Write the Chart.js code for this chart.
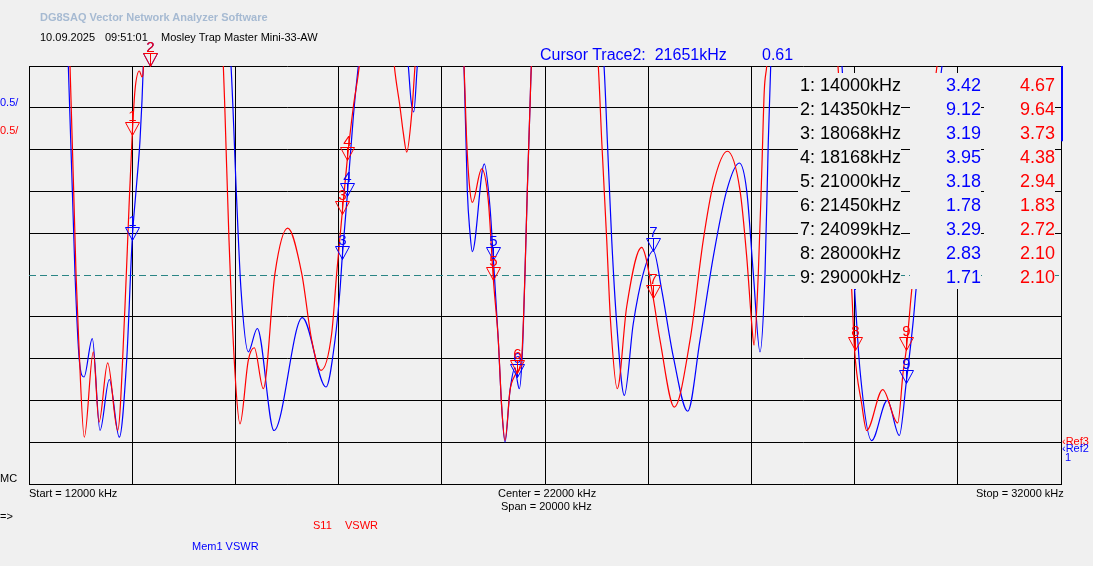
<!DOCTYPE html>
<html>
<head>
<meta charset="utf-8">
<script src="https://cdn.jsdelivr.net/npm/chart.js@4.4.1/dist/chart.umd.min.js"></script>
<style>
  body { margin: 0; background: #f0f0f0; }
  #wrap { position: relative; width: 1093px; height: 566px; overflow: hidden;
          font-family: "Liberation Sans", Arial, sans-serif; }
  #wrap canvas { position: absolute; left: 0; top: 0; }
  .t { position: absolute; white-space: nowrap; line-height: 1; }
  .small { font-size: 11px; color: #000; }
  .cell { position: absolute; height: 24px; line-height: 24px; font-size: 18px;
          background: #f0f0f0; white-space: nowrap; }
</style>
</head>
<body>
<div id="wrap">
  <canvas id="vna" width="1093" height="566"></canvas>

  <div class="t" style="left:40px;top:12px;font-size:11px;font-weight:bold;color:#a6bad2;">DG8SAQ Vector Network Analyzer Software</div>
  <div class="t small" style="left:40px;top:32px;">10.09.2025</div>
  <div class="t small" style="left:105px;top:32px;">09:51:01</div>
  <div class="t small" style="left:161px;top:32px;">Mosley Trap Master Mini-33-AW</div>

  <div class="t" style="left:540px;top:47px;font-size:16px;color:#0000ff;">Cursor Trace2:&nbsp; 21651kHz</div>
  <div class="t" style="left:762px;top:47px;font-size:16px;color:#0000ff;">0.61</div>

  <div class="t small" style="left:0px;top:97px;color:#0000ff;">0.5/</div>
  <div class="t small" style="left:0px;top:125px;color:#ff0000;">0.5/</div>

  <div class="t small" style="left:0px;top:473px;">MC</div>
  <div class="t small" style="left:29px;top:488px;">Start = 12000 kHz</div>
  <div class="t small" style="left:498px;top:488px;">Center = 22000 kHz</div>
  <div class="t small" style="left:501px;top:501px;">Span = 20000 kHz</div>
  <div class="t small" style="left:976px;top:488px;">Stop = 32000 kHz</div>
  <div class="t small" style="left:0px;top:511px;">=&gt;</div>
  <div class="t small" style="left:313px;top:520px;color:#ff0000;">S11</div>
  <div class="t small" style="left:345px;top:520px;color:#ff0000;">VSWR</div>
  <div class="t small" style="left:192px;top:541px;color:#0000ff;">Mem1 VSWR</div>

  <div class="t small" style="left:1062px;top:436px;color:#ff0000;">&lsaquo;Ref3</div>
  <div class="t small" style="left:1062px;top:443px;color:#0000ff;">&lsaquo;Ref2</div>
  <div class="t small" style="left:1065px;top:452px;color:#0000ff;">1</div>

  <div id="table"></div>
</div>

<script>
// S11 VSWR (red trace)
const s11Freq = [12000, 12795, 12911, 12963, 13072, 13246, 13357, 13525, 13719, 13860, 13938, 14000, 14054, 14138, 14190, 14219, 14350, 15000,
  15766, 15798, 15876, 15992, 16089, 16250, 16366, 16541, 16767, 17014, 17285, 17479, 17659, 17866, 17963, 18068, 18168, 18285, 18401, 18750,
  19080, 19190, 19254, 19320, 19417, 19481, 19950, 20430, 20482, 20533, 20591, 20773, 20901, 21000, 21095, 21161, 21225, 21322, 21419, 21450,
  21548, 21612, 21657, 21709, 21735, 22400, 23033, 23099, 23196, 23273, 23401, 23583, 23874, 23950, 24099, 24229, 24506, 24811, 25068, 25262,
  25533, 25780, 25909, 26006, 26051, 26134, 26200, 26250, 26297, 27000, 27678, 27944, 28000, 28137, 28234, 28545, 28835, 28944, 29000, 29107,
  29597, 32000];
const s11Vswr = [14, 5.50, 3.02, 2.22, 1.06, 2.08, 1.24, 1.95, 1.14, 2.62, 3.81, 4.67, 5.21, 5.44, 5.37, 5.50, 9.64, 12,
  5.50, 4.94, 3.42, 1.83, 1.22, 1.98, 2.13, 1.64, 3.02, 3.56, 3.02, 2.22, 1.86, 2.30, 3.02, 3.73, 4.38, 5.01, 5.50, 8,
  5.50, 5.01, 4.70, 4.47, 4.93, 5.50, 9, 5.50, 4.61, 4.09, 3.87, 4.27, 3.89, 2.94, 2.22, 1.42, 1.02, 1.62, 1.80, 1.83,
  2.02, 3.02, 4.01, 5.01, 5.50, 10, 5.50, 4.61, 3.42, 2.42, 1.64, 2.62, 3.33, 3.22, 2.72, 2.22, 1.42, 2.22, 3.42, 4.09,
  4.48, 4.01, 3.22, 2.42, 2.16, 3.02, 4.22, 5.21, 5.50, 12, 5.50, 2.82, 2.10, 1.46, 1.14, 1.63, 1.23, 1.86, 2.10, 2.82,
  5.50, 15];

// Mem1 VSWR (blue trace)
const memFreq = [12000, 12762, 12891, 12975, 13066, 13227, 13376, 13556, 13750, 13893, 14000, 14087, 14151, 14215, 14350, 15000,
  15915, 16025, 16109, 16250, 16424, 16748, 17297, 17756, 17930, 18027, 18068, 18168, 18285, 18382, 18900, 19351, 19403, 19456, 19525, 20000,
  20430, 20494, 20547, 20591, 20824, 20934, 21000, 21095, 21161, 21225, 21322, 21419, 21450, 21502, 21560, 21612, 21657, 21709, 21735, 22400,
  23144, 23208, 23293, 23390, 23537, 23711, 23905, 24099, 24262, 24487, 24766, 25004, 25262, 25521, 25766, 25909, 26037, 26167, 26264, 26328,
  26374, 27000, 27756, 28000, 28105, 28331, 28634, 28867, 29000, 29138, 29190, 29694, 32000];
const memVswr = [14, 5.50, 3.02, 1.98, 1.78, 2.24, 1.14, 1.75, 1.06, 1.98, 3.42, 4.10, 4.61, 5.50, 9.12, 12,
  5.50, 3.89, 2.82, 2.08, 2.36, 1.14, 2.49, 1.66, 2.22, 2.82, 3.19, 3.95, 4.89, 5.50, 8, 5.50, 5.09, 4.95, 5.50, 9,
  5.50, 4.01, 3.50, 3.28, 4.33, 3.81, 3.18, 2.22, 1.42, 1.00, 1.62, 1.89, 1.78, 1.64, 2.05, 3.02, 4.01, 5.01, 5.50, 10,
  5.50, 4.61, 3.42, 2.42, 1.56, 2.42, 3.02, 3.29, 2.82, 2.02, 1.37, 2.22, 3.22, 4.01, 4.34, 4.01, 3.02, 2.08, 3.02, 4.61,
  5.50, 12, 5.50, 2.83, 1.86, 1.02, 1.50, 1.08, 1.71, 2.46, 2.82, 5.50, 15];

// markers
const markerFreq = [14000, 14350, 18068, 18168, 21000, 21450, 24099, 28000, 29000];
const markerMem = [3.42, 9.12, 3.19, 3.95, 3.18, 1.78, 3.29, 2.83, 1.71];
const markerS11 = [4.67, 9.64, 3.73, 4.38, 2.94, 1.83, 2.72, 2.10, 2.10];

const RED = '#ff0000';
const BLUE = '#0000ff';

// marker table on the right
const table = document.getElementById('table');
markerFreq.forEach((f, i) => {
  const top = 73 + 24 * i;
  table.insertAdjacentHTML('beforeend',
    `<div class="cell" style="left:798px;top:${top}px;padding-left:2px;">${i + 1}: ${f}kHz</div>` +
    `<div class="cell" style="left:910px;top:${top}px;width:71px;text-align:right;color:${BLUE};">${markerMem[i].toFixed(2)}</div>` +
    `<div class="cell" style="left:984px;top:${top}px;width:71px;text-align:right;color:${RED};">${markerS11[i].toFixed(2)}</div>`);
});

function drawMarker(ctx, px, py, color, label) {
  ctx.save();
  ctx.strokeStyle = color;
  ctx.fillStyle = color;
  ctx.lineWidth = 1;
  const x = Math.round(px) + 0.5;
  const y = Math.round(py) + 0.5;
  ctx.beginPath();
  ctx.moveTo(x - 7, y - 13);
  ctx.lineTo(x + 7, y - 13);
  ctx.lineTo(x, y);
  ctx.closePath();
  ctx.moveTo(x, y - 13);
  ctx.lineTo(x, y);
  ctx.stroke();
  ctx.font = '15px "Liberation Sans", Arial, sans-serif';
  ctx.textAlign = 'center';
  ctx.textBaseline = 'bottom';
  ctx.fillText(label, x, y - 11);
  ctx.restore();
}

const overlay = {
  id: 'overlay',
  beforeDatasetsDraw(chart) {
    const { ctx, chartArea, scales: { y } } = chart;
    const yy = Math.round(y.getPixelForValue(3)) + 0.5;
    ctx.save();
    ctx.strokeStyle = '#2a8585';
    ctx.lineWidth = 1;
    ctx.setLineDash([7, 4]);
    ctx.beginPath();
    ctx.moveTo(chartArea.left, yy);
    ctx.lineTo(chartArea.right, yy);
    ctx.stroke();
    ctx.restore();
  },
  afterDatasetsDraw(chart) {
    const { ctx, chartArea, scales: { x, y } } = chart;
    const clampY = v => Math.min(Math.max(y.getPixelForValue(v), chartArea.top), chartArea.bottom);
    markerFreq.forEach((f, i) => {
      drawMarker(ctx, x.getPixelForValue(f), clampY(markerMem[i]), BLUE, String(i + 1));
    });
    markerFreq.forEach((f, i) => {
      drawMarker(ctx, x.getPixelForValue(f), clampY(markerS11[i]), RED, String(i + 1));
    });
    // scale indicator on the right border
    ctx.save();
    ctx.strokeStyle = BLUE;
    ctx.lineWidth = 2;
    ctx.beginPath();
    ctx.moveTo(chartArea.right + 1, chartArea.top);
    ctx.lineTo(chartArea.right + 1, y.getPixelForValue(4.6));
    ctx.stroke();
    ctx.restore();
  }
};

const toPoints = (fs, vs) => fs.map((f, i) => ({ x: f, y: vs[i] }));

new Chart(document.getElementById('vna'), {
  type: 'line',
  data: {
    datasets: [
      {
        label: 'S11 VSWR',
        data: toPoints(s11Freq, s11Vswr),
        borderColor: RED,
        borderWidth: 1.2,
        pointRadius: 0,
        cubicInterpolationMode: 'monotone',
        clip: 0
      },
      {
        label: 'Mem1 VSWR',
        data: toPoints(memFreq, memVswr),
        borderColor: BLUE,
        borderWidth: 1.2,
        pointRadius: 0,
        cubicInterpolationMode: 'monotone',
        clip: 0
      }
    ]
  },
  options: {
    responsive: false,
    animation: false,
    devicePixelRatio: 1,
    layout: { padding: { left: 29, right: 32, top: 66, bottom: 82 } },
    plugins: { legend: { display: false }, tooltip: { enabled: false } },
    scales: {
      x: {
        type: 'linear',
        min: 12000,
        max: 32000,
        ticks: { display: false, stepSize: 2000 },
        grid: { color: '#000', drawTicks: false },
        border: { color: '#000' },
        afterFit: s => { s.height = 0; }
      },
      y: {
        min: 0.5,
        max: 5.5,
        ticks: { display: false, stepSize: 0.5 },
        grid: {
          drawTicks: false,
          color: c => (c.tick && Math.abs(c.tick.value - 3) < 1e-6) ? 'rgba(0,0,0,0)' : '#000'
        },
        border: { color: '#000' },
        afterFit: s => { s.width = 0; }
      }
    }
  },
  plugins: [overlay]
});
</script>
</body>
</html>
